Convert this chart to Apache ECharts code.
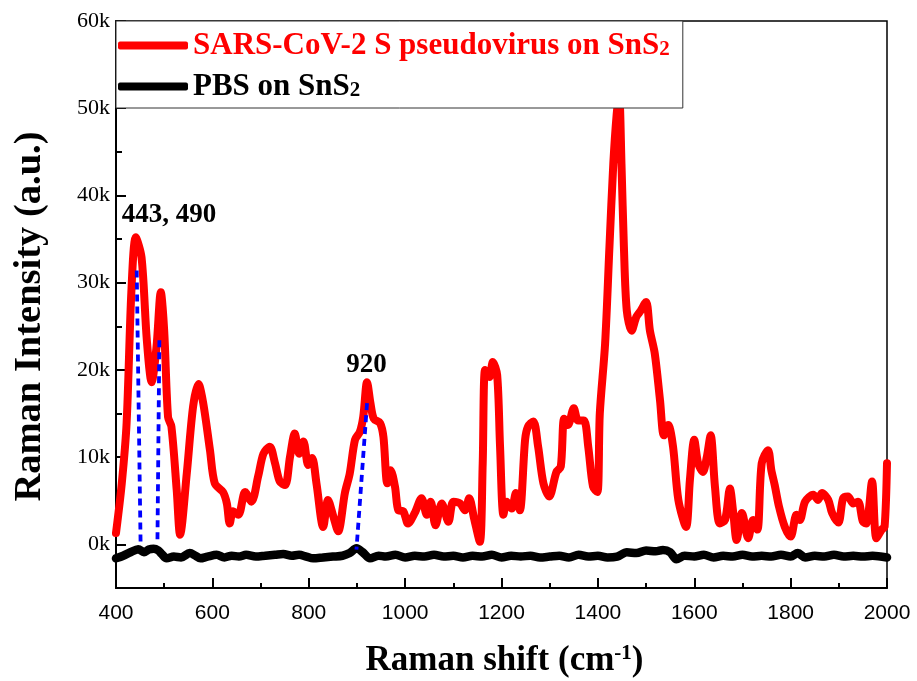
<!DOCTYPE html>
<html>
<head>
<meta charset="utf-8">
<script src="https://cdn.jsdelivr.net/npm/echarts@6/dist/echarts.min.js"></script>
<style>html,body{margin:0;padding:0;background:#fff}#c{width:917px;height:681px}</style>
</head>
<body>
<div id="c"></div>
<script>
// ---- data ----
const redName = 'SARS-CoV-2 S pseudovirus on SnS2';
const blackName = 'PBS on SnS2';

const redX = [400,412,422,432,441,453,464,474,484,493,500,508,515,526,533,547,560,571,581,595,605,622,630,636,643,654,668,681,695,706,719,730,740,751,761,771,780,789,799,807,816,830,840,851,861,875,885,896,906,913,921,928,935,948,955,963,970,979,986,996,1006,1020,1034,1045,1053,1063,1076,1090,1100,1114,1124,1133,1143,1155,1161,1166,1175,1182,1191,1197,1204,1211,1221,1230,1238,1249,1255,1266,1276,1287,1299,1314,1323,1330,1338,1350,1359,1371,1380,1390,1399,1404,1415,1424,1432,1439,1444,1449,1454,1460,1470,1480,1489,1500,1508,1518,1529,1537,1546,1556,1567,1583,1591,1600,1608,1618,1626,1634,1643,1653,1664,1674,1681,1688,1699,1712,1722,1731,1740,1753,1760,1767,1776,1788,1800,1812,1819,1830,1847,1857,1865,1878,1886,1899,1909,1919,1930,1940,1950,1957,1969,1978,1989,1995,2000];
const redY = [1300,7000,13900,29100,35200,32900,23400,18600,22600,28900,24500,14600,13500,6200,1100,8200,15800,18400,16200,10800,7000,6000,4700,2400,3800,3400,6000,4900,7800,10400,11200,9300,7200,6800,10000,12700,10400,11800,9100,9900,7000,2000,5100,3200,1500,5900,8100,12000,12900,14600,18600,16200,14400,13900,12300,7000,8500,6600,3900,3800,2400,3600,5300,3400,4900,2200,4700,2600,4900,4700,3900,5300,3000,300,9300,20000,19200,20900,19400,11200,3400,4900,4100,5900,3900,12000,13500,14100,11200,7000,5500,8300,8900,14400,13700,15600,14200,14200,11200,6600,6000,15000,23000,34100,43600,49300,51500,43600,34100,26800,24500,26100,26800,27800,24500,21900,16500,12500,13700,11200,5100,2000,7400,12000,9300,8300,10000,12500,6600,2400,2800,6400,3600,500,3600,700,2800,1700,9300,10800,8500,6800,4300,2000,900,3400,2800,4900,5700,5100,5900,5100,3600,2500,5300,5500,4700,4900,2600,2400,7200,700,1700,2000,9300];

const blackX = [400,415,430,446,458,468,478,488,495,505,520,535,553,565,575,590,609,625,640,655,670,690,710,730,747,765,780,795,809,830,850,870,885,899,912,927,945,960,980,1000,1020,1040,1060,1080,1100,1120,1140,1160,1180,1200,1220,1240,1260,1280,1300,1320,1340,1360,1380,1400,1420,1440,1460,1480,1500,1520,1535,1550,1563,1580,1600,1620,1640,1660,1680,1700,1720,1740,1760,1780,1800,1815,1830,1850,1870,1890,1910,1930,1950,1970,2000];
const blackY = [-1600,-1300,-900,-550,-900,-600,-500,-700,-1100,-1600,-1400,-1500,-1000,-1300,-1600,-1400,-1200,-1500,-1300,-1400,-1200,-1400,-1300,-1200,-1100,-1300,-1200,-1400,-1600,-1500,-1400,-1300,-1000,-450,-900,-1600,-1300,-1400,-1200,-1500,-1300,-1400,-1200,-1400,-1300,-1500,-1300,-1400,-1200,-1500,-1300,-1400,-1300,-1500,-1400,-1300,-1500,-1200,-1400,-1300,-1500,-1400,-900,-1000,-700,-800,-650,-900,-1700,-1300,-1400,-1200,-1500,-1300,-1400,-1200,-1400,-1300,-1400,-1200,-1400,-1000,-1500,-1300,-1400,-1200,-1400,-1300,-1400,-1300,-1500];

// dotted guide lines: [x_top, y_top, x_bottom, y_bottom]
const guide443 = [443, 31400, 451, 200];
const guide490 = [490, 23400, 486, 200];
const guide920 = [921, 16200, 899, -600];

// peak annotations: [text, x, y]
const peakLabels = [['443, 490', 510, 37700], ['920', 920, 20600]];

const xTickLabels = [400, 600, 800, 1000, 1200, 1400, 1600, 1800, 2000];
const yMajorTicks = [0, 10000, 20000, 30000, 40000, 50000, 60000];
const yMinorTicks = [-5000, 5000, 15000, 25000, 35000, 45000, 55000];

// ---- build ----
const zip = (xs, ys) => xs.map((x, i) => [x, ys[i]]);
const guide = g => [[g[0], g[1]], [g[2], g[3]]];
const serif = 'Liberation Serif, Times New Roman, serif';

const guideStyle = {color: '#0000ff', width: 3.8, type: [7, 5], cap: 'butt'};
function guideSeries(g) {
  return {type: 'line', data: guide(g), showSymbol: false, symbol: 'none', silent: true,
    lineStyle: guideStyle, z: 5, legendHoverLink: false, tooltip: {show: false}};
}

const chart = echarts.init(document.getElementById('c'), null, {renderer: 'canvas'});
chart.setOption({
  animation: false,
  backgroundColor: '#fff',
  grid: {left: 116, right: 30, top: 21, bottom: 93, show: true, borderColor: '#000', borderWidth: 1.5, backgroundColor: 'transparent', containLabel: false, outerBoundsMode: 'none'},
  legend: {
    left: 116, top: 21, orient: 'vertical',
    padding: [9, 13, 6, 2], itemGap: 10,
    itemWidth: 70, itemHeight: 8, icon: 'roundRect',
    backgroundColor: '#fff', borderColor: '#333', borderWidth: 1, borderRadius: 0,
    textStyle: {fontFamily: serif, fontWeight: 'bold', fontSize: 31, lineHeight: 30, color: '#000',
      rich: {sub: {fontFamily: serif, fontWeight: 'bold', fontSize: 21, lineHeight: 20, verticalAlign: 'bottom'}}},
    formatter: n => n.replace(/SnS2$/, 'SnS{sub|2}'),
    data: [{name: redName, textStyle: {color: '#ff0000'}, itemStyle: {color: '#ff0000'}},
           {name: blackName, textStyle: {color: '#000'}, itemStyle: {color: '#000'}}],
    z: 10
  },
  xAxis: [{
    type: 'value', min: 400, max: 2000, interval: 200,
    name: 'Raman shift (cm{sup|-1})', nameLocation: 'middle', nameGap: 55,
    nameTextStyle: {fontFamily: serif, fontWeight: 'bold', fontSize: 35, color: '#000', padding: [0, 0, 0, 6],
      rich: {sup: {fontFamily: serif, fontWeight: 'bold', fontSize: 21, lineHeight: 20, verticalAlign: 'top'}}},
    axisLine: {show: true, onZero: false, lineStyle: {color: '#000', width: 2}},
    axisTick: {show: true, inside: true, length: 10, lineStyle: {color: '#000', width: 2}},
    minorTick: {show: true, splitNumber: 2, length: 5, lineStyle: {color: '#000', width: 2}},
    axisLabel: {fontFamily: 'Liberation Sans, Arial, sans-serif', fontSize: 21, color: '#000', margin: 15,
      customValues: xTickLabels, formatter: v => String(v)},
    splitLine: {show: false}, minorSplitLine: {show: false}
  }],
  yAxis: [{
    type: 'value', min: -5000, max: 60000,
    name: 'Raman Intensity (a.u.)', nameLocation: 'middle', nameGap: 66,
    nameTextStyle: {fontFamily: serif, fontWeight: 'bold', fontSize: 38.5, color: '#000', padding: [0, 24, 0, 0]},
    axisLine: {show: true, onZero: false, lineStyle: {color: '#000', width: 2}},
    axisTick: {show: true, inside: true, length: 10, lineStyle: {color: '#000', width: 2}, customValues: yMajorTicks},
    axisLabel: {fontFamily: serif, fontSize: 22, color: '#000', margin: 6, customValues: yMajorTicks,
      formatter: v => (v / 1000) + 'k'},
    splitLine: {show: false}
  }, {
    type: 'value', min: -5000, max: 60000, position: 'left',
    axisLine: {show: false},
    axisTick: {show: true, inside: true, length: 6, lineStyle: {color: '#000', width: 2}, customValues: yMinorTicks},
    axisLabel: {show: false},
    splitLine: {show: false}
  }],
  series: [
    {name: redName, type: 'line', data: zip(redX, redY), showSymbol: false, symbol: 'none', color: '#ff0000', smooth: 0.3,
      lineStyle: {color: '#ff0000', width: 8, join: 'round', cap: 'round'}, z: 3},
    {name: blackName, type: 'line', data: zip(blackX, blackY), showSymbol: false, symbol: 'none', color: '#000', smooth: 0.3,
      lineStyle: {color: '#000', width: 8.5, join: 'round', cap: 'round'}, z: 3},
    guideSeries(guide443), guideSeries(guide490), guideSeries(guide920),
    {type: 'scatter', data: peakLabels.map(p => ({name: p[0], value: [p[1], p[2]]})), symbolSize: 0, silent: true, z: 6,
      itemStyle: {color: '#000', opacity: 1},
      label: {show: true, position: 'inside', formatter: p => p.name, textBorderWidth: 0, textShadowBlur: 0, opacity: 1,
        fontFamily: serif, fontWeight: 'bold', fontSize: 27, color: '#000'}}
  ]
});
</script>
</body>
</html>
